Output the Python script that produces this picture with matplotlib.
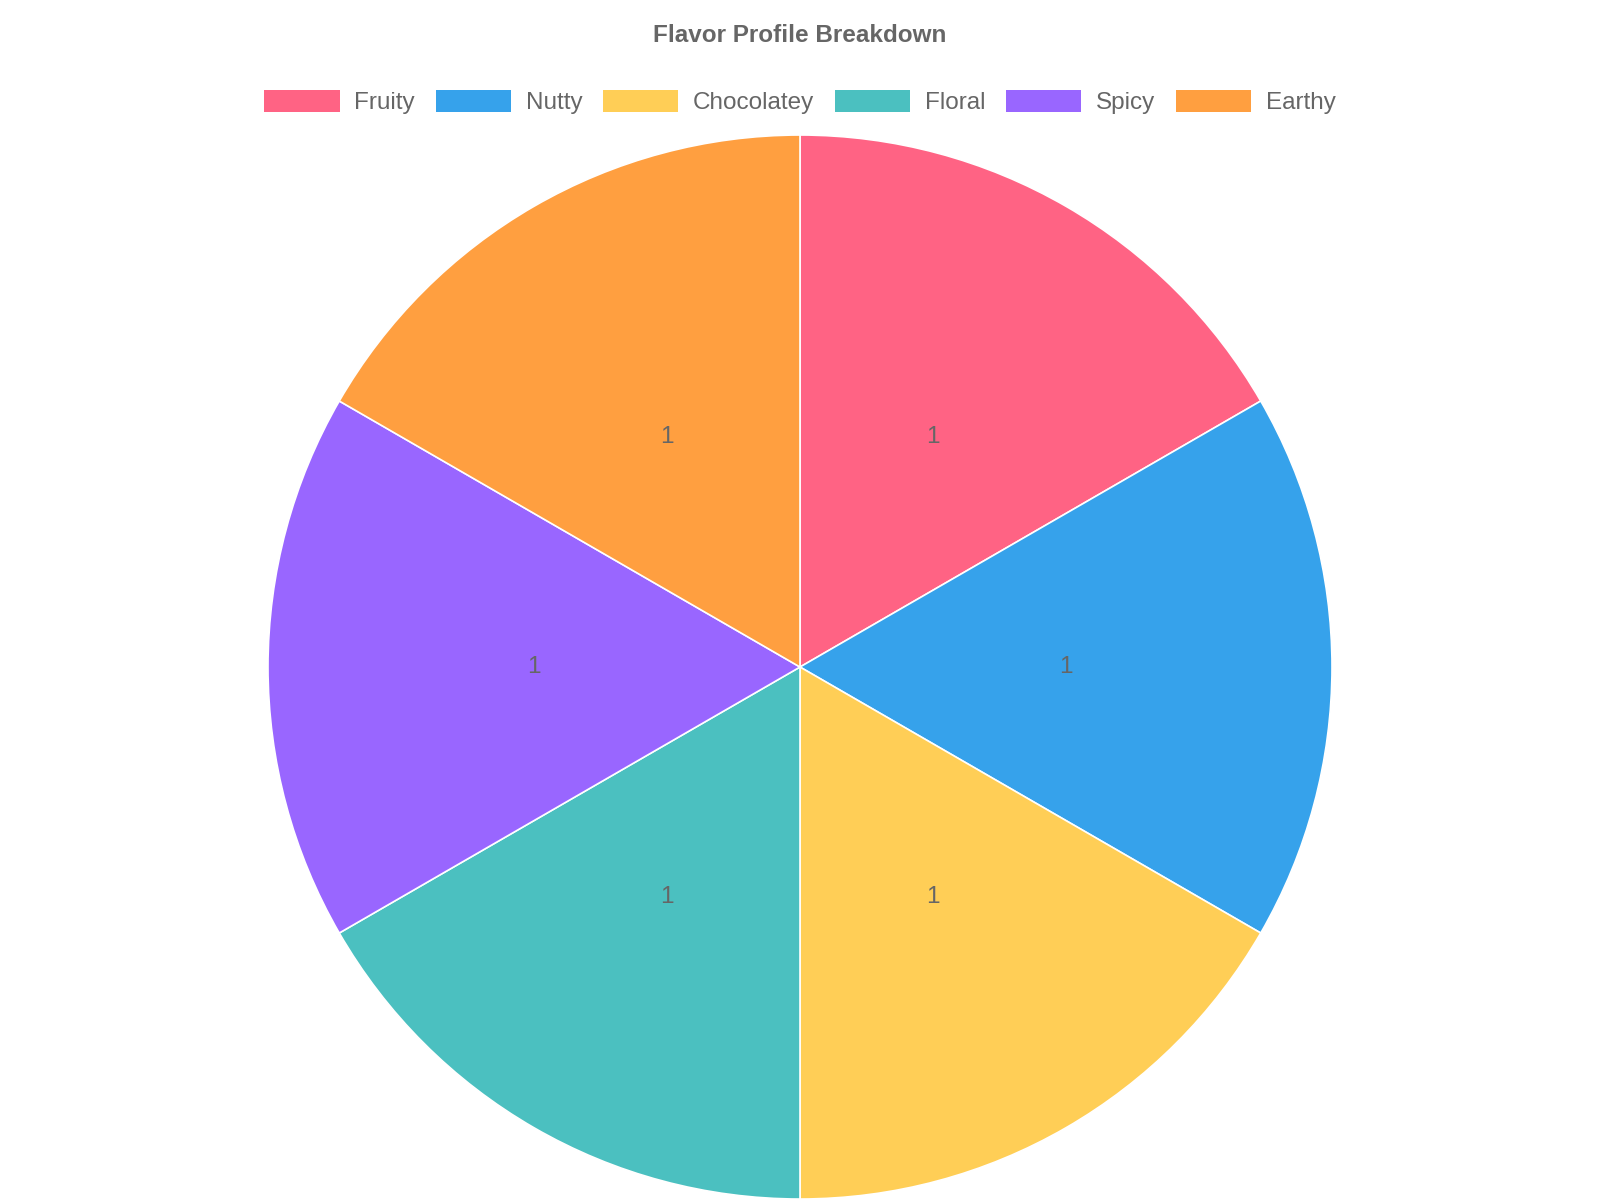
import matplotlib.pyplot as plt
from matplotlib.patches import Rectangle

plt.rcParams['font.family'] = ['Liberation Sans', 'DejaVu Sans']

labels = ['Fruity', 'Nutty', 'Chocolatey', 'Floral', 'Spicy', 'Earthy']
values = [1, 1, 1, 1, 1, 1]
colors = ['#FF6384', '#36A2EB', '#FFCE56', '#4BC0C0', '#9966FF', '#FF9F40']

fig = plt.figure(figsize=(16, 12), dpi=100)
ax = fig.add_axes([0.1675, 0.0008, 0.665, 0.8867])

wedges, texts = ax.pie(values, colors=colors, startangle=90, counterclock=False,
                       labels=[str(v) for v in values], labeldistance=0.5,
                       wedgeprops=dict(edgecolor='white', linewidth=1.2),
                       textprops=dict(color='#666666', fontsize=17.5))
for t in texts:
    t.set_ha('center')
    t.set_va('center')
ax.set_xlim(-1, 1)
ax.set_ylim(-1, 1)
ax.set_aspect('equal')

fig.text(0.5, 1 - 36 / 1200, 'Flavor Profile Breakdown', ha='center', va='center',
         fontsize=17.5, fontweight='bold', color='#666666')

handles = [Rectangle((0, 0), 1, 1, facecolor=c, edgecolor='none') for c in colors]
fig.legend(handles, labels, loc='center', bbox_to_anchor=(0.5, 1 - 102 / 1200), ncol=6,
           frameon=False, fontsize=17.5, labelcolor='#666666', handlelength=3.1,
           handleheight=1.0, handletextpad=0.6, columnspacing=0.85)

fig.savefig('out.png', dpi=100)
